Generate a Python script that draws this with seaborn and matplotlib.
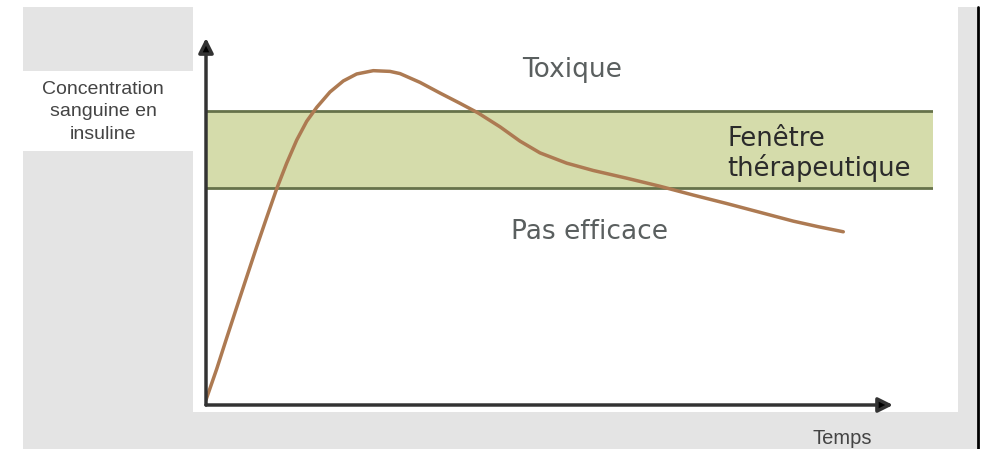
import seaborn as sns
import matplotlib.pyplot as plt
from matplotlib.patches import Rectangle

# Courbe de concentration
temps = [0.0, 0.147, 0.285, 0.422, 0.560, 0.697, 0.835, 0.972, 1.110, 1.248,
         1.385, 1.523, 1.706, 1.889, 2.073, 2.301, 2.531, 2.669, 2.944, 3.219,
         3.494, 3.741, 4.044, 4.319, 4.594, 4.961, 5.327, 5.787, 6.245, 6.703,
         7.162, 7.620, 8.078, 8.418, 8.766]
concentration = [1.4, 9.8, 18.3, 26.6, 34.9, 43.1, 51.1, 58.9, 65.9, 72.2,
                 77.3, 81.1, 85.3, 88.3, 90.2, 91.1, 90.9, 90.3, 87.9, 85.0,
                 82.2, 79.6, 75.8, 71.9, 68.7, 65.9, 63.9, 61.8, 59.6, 57.2,
                 54.9, 52.5, 50.1, 48.6, 47.2]

# Fenetre therapeutique
fenetre_basse = 59
fenetre_haute = 80

label_y = 'Concentration\nsanguine en\ninsuline'
label_x = 'Temps'
zone_haut = 'Toxique'
zone_milieu = 'Fenêtre\nthérapeutique'
zone_bas = 'Pas efficace'

sns.set_style('white')
plt.rcParams['font.family'] = ['DejaVu Sans']

fig = plt.figure(figsize=(9.89, 4.49), dpi=100)
fig.patch.set_facecolor('white')

# fond gris / cadre (en pixels)
bg = fig.add_axes([0, 0, 1, 1])
bg.set_xlim(0, 989)
bg.set_ylim(449, 0)
bg.axis('off')
gris = '#e4e4e4'
bg.add_patch(Rectangle((23, 7), 954, 442, color=gris, lw=0))
bg.add_patch(Rectangle((193, 0), 765, 412, color='white', lw=0))
bg.add_patch(Rectangle((23, 71), 170, 80, color='white', lw=0))
bg.plot([978, 978], [7, 449], color='black', lw=2)

bg.text(103, 112, label_y, ha='center', va='center', fontsize=14,
        color='#444444', family='Liberation Sans', linespacing=1.4)
bg.text(842, 438, label_x, ha='center', va='center', fontsize=14.5,
        color='#444444', family='Liberation Sans')

# graphique principal
ax = fig.add_axes([206 / 989, 44 / 449, 727 / 989, 367 / 449])
ax.set_facecolor('none')
ax.set_xlim(0, 10)
ax.set_ylim(0, 100)
for s in ax.spines.values():
    s.set_visible(False)
ax.set_xticks([])
ax.set_yticks([])

ax.axhspan(fenetre_basse, fenetre_haute, color='#d5dcab', lw=0, zorder=1)
ax.axhline(fenetre_basse, color='#66724a', lw=2, zorder=2)
ax.axhline(fenetre_haute, color='#66724a', lw=2, zorder=2)

sns.lineplot(x=temps, y=concentration, ax=ax, color='#ad7a52', lw=2.5,
             sort=False, zorder=4, solid_joinstyle='round',
             solid_capstyle='round')

# axes avec fleches
fleche = dict(arrowstyle='-|>', ec='#333333', fc='black', lw=2.5,
              mutation_scale=22, shrinkA=0, shrinkB=0)
ax.annotate('', xy=(0, 100), xytext=(0, 0), xycoords='data',
            arrowprops=fleche, annotation_clip=False, zorder=5)
ax.annotate('', xy=(9.45, 0), xytext=(0, 0), xycoords='data',
            arrowprops=fleche, annotation_clip=False, zorder=5)

ax.text(5.03, 91.3, zone_haut, ha='center', va='center', fontsize=19,
        color='#5a5f5f')
ax.text(7.17, 68.3, zone_milieu, ha='left', va='center', fontsize=18.5,
        color='#2b2b2b', linespacing=1.1)
ax.text(5.28, 47.1, zone_bas, ha='center', va='center', fontsize=19,
        color='#5a5f5f')

plt.savefig('out.png', dpi=100)
